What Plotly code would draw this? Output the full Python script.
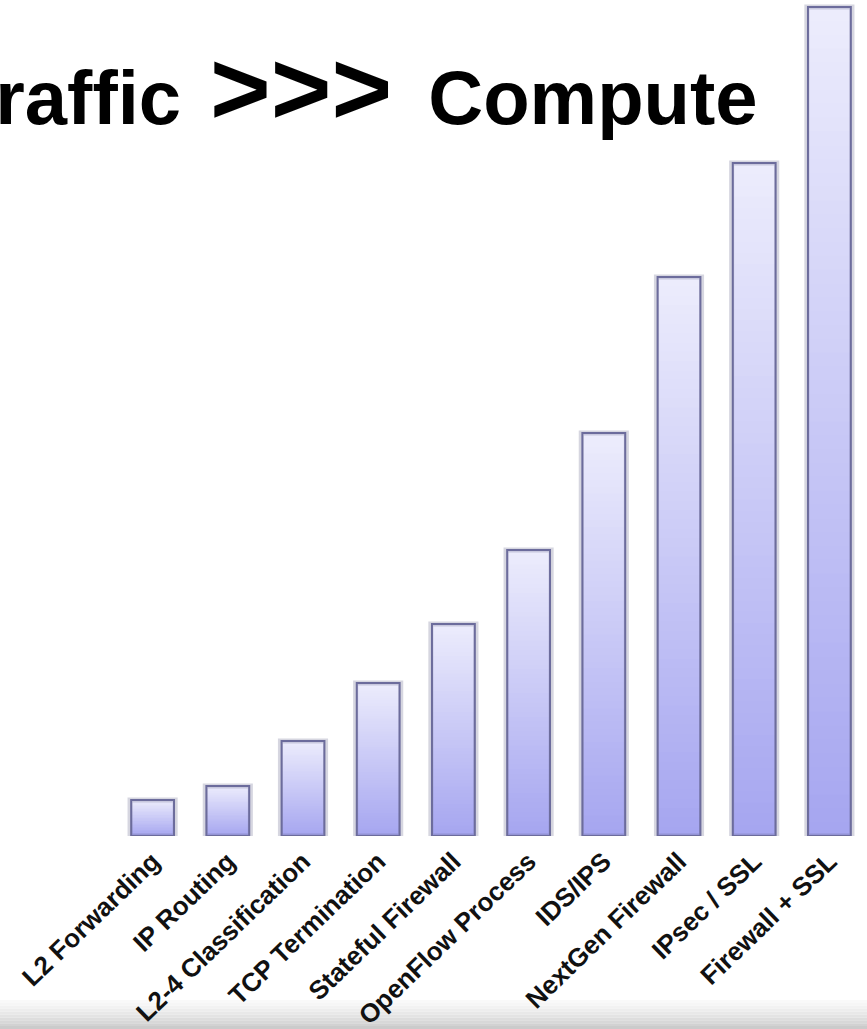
import plotly.graph_objects as go

# Relative compute needed per network function
categories = [
    "L2 Forwarding", "IP Routing", "L2-4 Classification", "TCP Termination",
    "Stateful Firewall", "OpenFlow Process", "IDS/IPS", "NextGen Firewall",
    "IPsec / SSL", "Firewall + SSL",
]
compute = [36, 50, 95, 153, 212, 286, 403, 559, 673, 829]

title_text = (
    "Traffic<span style='font-size:104px'> </span>"
    "<span style='font-size:104px'>&gt;&gt;&gt;</span>"
    "<span style='font-size:130px'> </span>Compute"
)

W, H = 867, 1029
M_L, M_R, M_T, M_B = 115, 0, 0, 193
PLOT_W = W - M_L - M_R
PLOT_H = H - M_T - M_B

TOP_RGB = (236, 236, 252)
BOT_RGB = (166, 166, 240)
N_STEPS = 60
BAR_W = 0.57
FONT = "Liberation Sans, Arial, sans-serif"


def mix(a, b, t):
    return "rgb(%d,%d,%d)" % tuple(round(a[i] + (b[i] - a[i]) * t) for i in range(3))


fig = go.Figure()

# Vertical gradient: overlapping slices, each running from its step up to the bar's top
for k in range(N_STEPS):
    t = k / (N_STEPS - 1)
    fig.add_trace(go.Bar(
        x=categories,
        y=[v * (N_STEPS - k) / N_STEPS for v in compute],
        base=[v * k / N_STEPS for v in compute],
        width=BAR_W,
        marker=dict(color=mix(BOT_RGB, TOP_RGB, t), line=dict(width=0)),
        hoverinfo="skip",
        showlegend=False,
    ))

# Soft shadow and outline around each bar
fig.add_trace(go.Bar(
    x=categories, y=compute, width=BAR_W + 0.03,
    marker=dict(color="rgba(0,0,0,0)", line=dict(color="rgba(90,90,130,0.25)", width=5)),
    hoverinfo="skip", showlegend=False,
))
fig.add_trace(go.Bar(
    x=categories, y=compute, width=BAR_W,
    marker=dict(color="rgba(0,0,0,0)", line=dict(color="rgb(108,108,156)", width=2)),
    showlegend=False,
))

# Grey band along the bottom edge
band_top, band_bot = 1000, H
n_band = 10
for i in range(n_band):
    y0 = band_top + (band_bot - band_top) * i / n_band
    y1 = band_top + (band_bot - band_top) * (i + 1) / n_band
    g = round(250 - 50 * ((i + 0.5) / n_band) ** 1.3)
    fig.add_shape(
        type="rect", xref="paper", yref="paper", layer="below",
        x0=-M_L / PLOT_W - 0.01, x1=1.01,
        y0=(PLOT_H - (y1 - M_T)) / PLOT_H, y1=(PLOT_H - (y0 - M_T)) / PLOT_H,
        fillcolor="rgb(%d,%d,%d)" % (g, g, g), line=dict(width=0),
    )

fig.add_annotation(
    text=title_text,
    xref="paper", yref="paper",
    x=(-49 - M_L) / PLOT_W, xanchor="left",
    y=(PLOT_H - (79 - M_T)) / PLOT_H, yanchor="middle",
    showarrow=False,
    font=dict(family=FONT, size=76, color="black", weight="bold"),
)

fig.update_layout(
    width=W, height=H,
    margin=dict(l=M_L, r=M_R, t=M_T, b=M_B, autoexpand=False),
    barmode="overlay",
    bargap=0.43,
    paper_bgcolor="white",
    plot_bgcolor="white",
    xaxis=dict(
        type="category", range=[-0.5, len(categories) - 0.5],
        tickangle=-44, ticks="", showline=False, showgrid=False, zeroline=False,
        ticklabelstandoff=4,
        tickfont=dict(family=FONT, size=26, color="#111111", weight="bold"),
        automargin=False, fixedrange=True,
    ),
    yaxis=dict(
        range=[0, PLOT_H], visible=False, showgrid=False, zeroline=False,
        automargin=False, fixedrange=True,
    ),
)

fig.write_html("out.html")
